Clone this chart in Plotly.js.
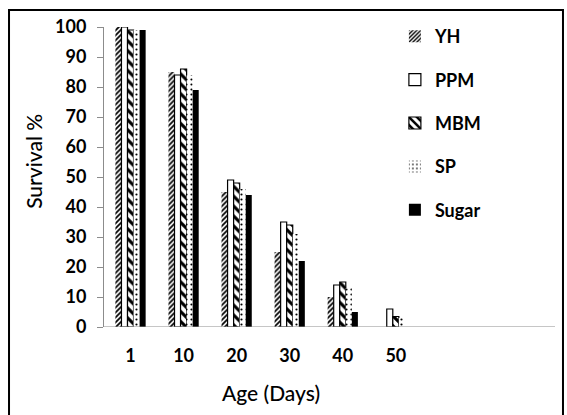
<!DOCTYPE html>
<html>
<head>
<meta charset="utf-8">
<script src="https://cdn.plot.ly/plotly-3.0.1.min.js"></script>
<style>
html,body{margin:0;padding:0;background:#fff;}
#chart{width:567px;height:415px;}
</style>
</head>
<body>
<div id="chart"></div>
<script>
const ages = ["1", "10", "20", "30", "40", "50"];
const yh    = [100, 85, 45, 25, 10, 0];
const ppm   = [100, 84, 49, 35, 14, 6];
const mbm   = [99, 86, 48, 34, 15, 3.5];
const sp    = [99, 84, 46, 31, 13, 3];
const sugar = [99, 79, 44, 22, 5, 0];
const yTicks = [0,10,20,30,40,50,60,70,80,90,100];

const idx = ages.map((_, i) => i);
function tr(name, y, marker) {
  return {type: 'bar', name: name, x: idx, y: y, marker: marker, legendgroup: name};
}
const traces = [
  tr('YH', yh, {color: '#fff', line: {color: '#fff', width: 0},
    pattern: {shape: '/', fgcolor: '#000', bgcolor: '#fff', size: 3.5, solidity: 0.5}}),
  tr('PPM', ppm, {color: '#fff', line: {color: '#000', width: 1.2}}),
  tr('MBM', mbm, {color: '#fff', line: {color: '#000', width: 1.2},
    pattern: {shape: '\\', fgcolor: '#000', bgcolor: '#fff', size: 7, solidity: 0.45}}),
  tr('SP', sp, {color: '#fff', line: {color: '#fff', width: 0},
    pattern: {shape: '.', fgcolor: '#000', bgcolor: '#fff', size: 5, solidity: 0.15}}),
  tr('Sugar', sugar, {color: '#000', line: {color: '#000', width: 0}})
];

const FONT = 'Lato, sans-serif';
const layout = {
  width: 567, height: 415,
  margin: {l: 104, r: 12, t: 27, b: 88},
  paper_bgcolor: '#fff', plot_bgcolor: '#fff',
  barmode: 'group', bargap: 0.43, bargroupgap: 0,
  showlegend: true,
  legend: {x: 0.645, y: 1.03, xanchor: 'left', yanchor: 'top',
    font: {family: FONT, size: 18, color: '#000', weight: 'bold'},
    tracegroupgap: 17, bgcolor: 'rgba(0,0,0,0)', itemwidth: 30},
  font: {family: FONT, color: '#000'},
  xaxis: {range: [-0.5, 8.0], tickvals: idx, ticktext: ages, showgrid: false,
    zeroline: false, showline: false, ticks: '', ticklabelstandoff: 16,
    tickfont: {family: FONT, size: 18, color: '#000', weight: 'bold'}},
  yaxis: {range: [0, 100], tickvals: yTicks, showgrid: false, zeroline: false,
    showline: true, linecolor: '#8c8c8c', linewidth: 1, ticks: 'outside', ticklen: 6,
    tickcolor: '#8c8c8c', ticklabelstandoff: 7,
    tickfont: {family: FONT, size: 18, color: '#000', weight: 'bold'}},
  shapes: [
    {type: 'line', xref: 'paper', yref: 'y', x0: 0, x1: 1, y0: 0, y1: 0,
      line: {color: '#8c8c8c', width: 1}},
    {type: 'rect', xref: 'paper', yref: 'paper', x0: -0.2106, x1: 1.0177, y0: -0.33, y1: 1.0567,
      line: {color: '#000', width: 2}, fillcolor: 'rgba(0,0,0,0)'}
  ],
  annotations: [
    {text: 'Survival %', xref: 'paper', yref: 'paper', x: -0.158, y: 0.553,
      xanchor: 'center', yanchor: 'middle',
      textangle: -90, showarrow: false, font: {family: FONT, size: 21, color: '#000', weight: 500}},
    {text: 'Age (Days)', xref: 'x', yref: 'paper', x: 2.65, y: -0.217,
      xanchor: 'center', yanchor: 'middle',
      showarrow: false, font: {family: FONT, size: 21, color: '#000', weight: 500}}
  ]
};

Plotly.newPlot('chart', traces, layout, {displayModeBar: false, staticPlot: true});
</script>
</body>
</html>
